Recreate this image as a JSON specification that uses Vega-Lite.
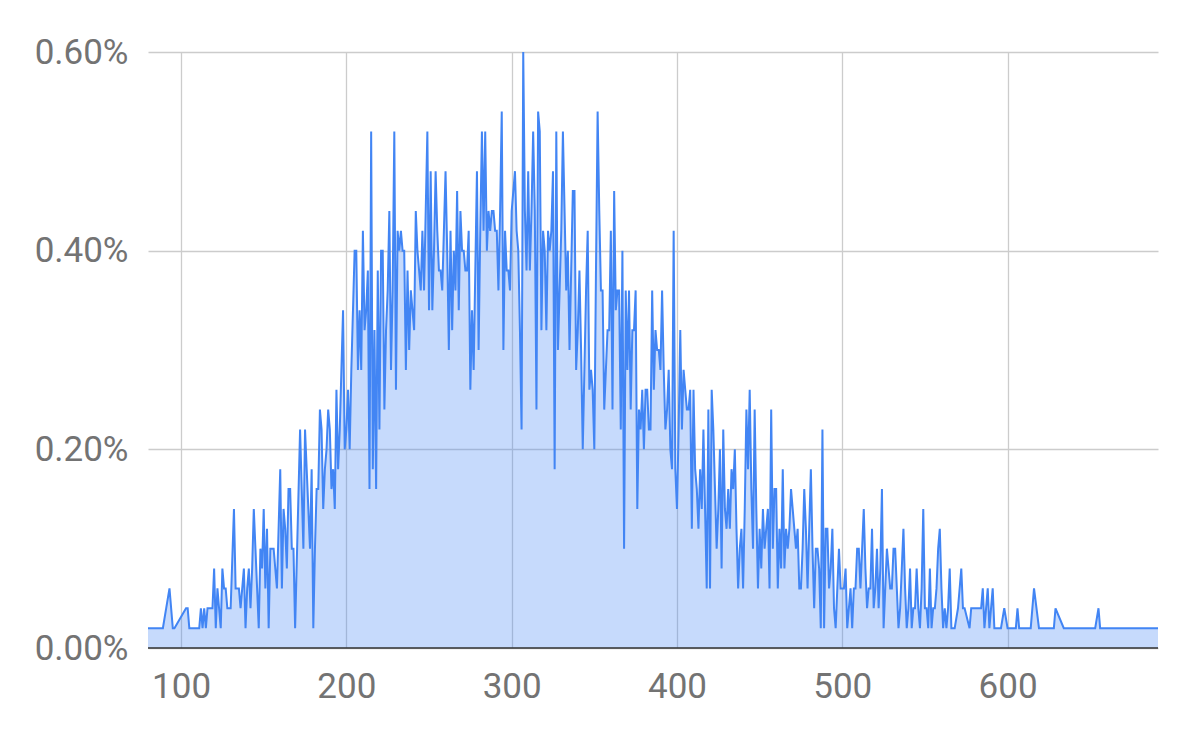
{
"$schema":"https://vega.github.io/schema/vega-lite/v6.json",
"width":1010,"height":596,"autosize":"none",
"padding":{"left":148,"top":52,"right":36,"bottom":88},
"background":"white",
"config":{"view":{"stroke":null},"font":"Roboto"},
"datasets":{"d":[
{"x":80,"p":0.0002},{"x":89,"p":0.0002},{"x":93,"p":0.0006},{"x":95,"p":0.0002},{"x":96,"p":0.0002},{"x":103,"p":0.0004},{"x":104,"p":0.0004},{"x":105,"p":0.0002},{"x":111,"p":0.0002},{"x":112,"p":0.0004},{"x":113,"p":0.0002},{"x":114,"p":0.0004},{"x":115,"p":0.0002},{"x":116,"p":0.0004},{"x":117,"p":0.0004},{"x":118,"p":0.0004},{"x":119,"p":0.0004},{"x":120,"p":0.0008},{"x":121,"p":0.0002},{"x":122,"p":0.0006},{"x":123,"p":0.0004},{"x":124,"p":0.0002},{"x":125,"p":0.0008},{"x":126,"p":0.0006},{"x":127,"p":0.0006},{"x":128,"p":0.0004},{"x":129,"p":0.0004},{"x":130,"p":0.0004},{"x":132,"p":0.0014},{"x":133,"p":0.0006},{"x":134,"p":0.0006},{"x":135,"p":0.0006},{"x":136,"p":0.0004},{"x":137,"p":0.0006},{"x":138,"p":0.0008},{"x":139,"p":0.0002},{"x":140,"p":0.0006},{"x":141,"p":0.0008},{"x":142,"p":0.0004},{"x":143,"p":0.0008},{"x":144,"p":0.0014},{"x":145,"p":0.001},{"x":146,"p":0.0006},{"x":147,"p":0.0002},{"x":148,"p":0.001},{"x":149,"p":0.0008},{"x":150,"p":0.0014},{"x":151,"p":0.0006},{"x":152,"p":0.0012},{"x":153,"p":0.0002},{"x":154,"p":0.001},{"x":155,"p":0.001},{"x":156,"p":0.001},{"x":157,"p":0.0008},{"x":158,"p":0.0006},{"x":159,"p":0.0012},{"x":160,"p":0.0018},{"x":161,"p":0.0006},{"x":162,"p":0.0014},{"x":163,"p":0.0012},{"x":164,"p":0.0008},{"x":165,"p":0.0016},{"x":166,"p":0.0016},{"x":167,"p":0.001},{"x":168,"p":0.001},{"x":169,"p":0.0002},{"x":172,"p":0.0022},{"x":173,"p":0.0016},{"x":174,"p":0.001},{"x":175,"p":0.0022},{"x":176,"p":0.0018},{"x":177,"p":0.0014},{"x":178,"p":0.001},{"x":179,"p":0.0018},{"x":180,"p":0.0002},{"x":181,"p":0.001},{"x":182,"p":0.0016},{"x":183,"p":0.0016},{"x":184,"p":0.0024},{"x":185,"p":0.0022},{"x":186,"p":0.0014},{"x":187,"p":0.0018},{"x":188,"p":0.002},{"x":189,"p":0.0024},{"x":190,"p":0.0022},{"x":191,"p":0.0016},{"x":192,"p":0.0018},{"x":193,"p":0.0014},{"x":194,"p":0.0026},{"x":195,"p":0.0018},{"x":196,"p":0.0022},{"x":197,"p":0.0028},{"x":198,"p":0.0034},{"x":199,"p":0.002},{"x":200,"p":0.0022},{"x":201,"p":0.0026},{"x":202,"p":0.002},{"x":203,"p":0.0028},{"x":204,"p":0.0034},{"x":205,"p":0.004},{"x":206,"p":0.004},{"x":207,"p":0.0028},{"x":208,"p":0.0034},{"x":209,"p":0.0028},{"x":210,"p":0.0042},{"x":211,"p":0.0032},{"x":212,"p":0.0034},{"x":213,"p":0.0038},{"x":214,"p":0.0016},{"x":215,"p":0.0052},{"x":216,"p":0.0018},{"x":217,"p":0.0032},{"x":218,"p":0.0016},{"x":219,"p":0.0038},{"x":220,"p":0.0022},{"x":221,"p":0.004},{"x":222,"p":0.004},{"x":223,"p":0.0024},{"x":224,"p":0.0032},{"x":225,"p":0.0036},{"x":226,"p":0.0044},{"x":227,"p":0.0028},{"x":228,"p":0.0036},{"x":229,"p":0.0052},{"x":230,"p":0.0026},{"x":231,"p":0.0042},{"x":232,"p":0.004},{"x":233,"p":0.0042},{"x":234,"p":0.004},{"x":235,"p":0.004},{"x":236,"p":0.0028},{"x":237,"p":0.0038},{"x":238,"p":0.003},{"x":239,"p":0.0036},{"x":240,"p":0.0034},{"x":241,"p":0.0032},{"x":242,"p":0.0044},{"x":243,"p":0.004},{"x":244,"p":0.0038},{"x":245,"p":0.0036},{"x":246,"p":0.0042},{"x":247,"p":0.0036},{"x":248,"p":0.0044},{"x":249,"p":0.0052},{"x":250,"p":0.0034},{"x":251,"p":0.0048},{"x":252,"p":0.0034},{"x":253,"p":0.004},{"x":254,"p":0.0048},{"x":255,"p":0.0042},{"x":256,"p":0.0038},{"x":257,"p":0.0038},{"x":258,"p":0.0036},{"x":259,"p":0.0042},{"x":260,"p":0.0048},{"x":261,"p":0.004},{"x":262,"p":0.003},{"x":263,"p":0.0042},{"x":264,"p":0.0032},{"x":265,"p":0.004},{"x":266,"p":0.0036},{"x":267,"p":0.0046},{"x":268,"p":0.0034},{"x":269,"p":0.0044},{"x":270,"p":0.004},{"x":271,"p":0.004},{"x":272,"p":0.0038},{"x":273,"p":0.0038},{"x":274,"p":0.0042},{"x":275,"p":0.0026},{"x":276,"p":0.0034},{"x":277,"p":0.0028},{"x":278,"p":0.0038},{"x":279,"p":0.0048},{"x":280,"p":0.003},{"x":281,"p":0.0042},{"x":282,"p":0.0052},{"x":283,"p":0.0042},{"x":284,"p":0.0052},{"x":285,"p":0.004},{"x":286,"p":0.0044},{"x":287,"p":0.0042},{"x":288,"p":0.0044},{"x":289,"p":0.0044},{"x":290,"p":0.0042},{"x":291,"p":0.0042},{"x":292,"p":0.0036},{"x":293,"p":0.0044},{"x":294,"p":0.0054},{"x":295,"p":0.003},{"x":296,"p":0.0042},{"x":297,"p":0.0038},{"x":298,"p":0.0038},{"x":299,"p":0.0036},{"x":300,"p":0.0044},{"x":301,"p":0.0046},{"x":302,"p":0.0048},{"x":303,"p":0.0042},{"x":304,"p":0.004},{"x":305,"p":0.0032},{"x":306,"p":0.0022},{"x":307,"p":0.006},{"x":308,"p":0.0044},{"x":309,"p":0.0038},{"x":310,"p":0.0048},{"x":311,"p":0.0038},{"x":312,"p":0.0044},{"x":313,"p":0.0052},{"x":314,"p":0.0044},{"x":315,"p":0.0024},{"x":316,"p":0.0054},{"x":317,"p":0.0052},{"x":318,"p":0.0032},{"x":319,"p":0.0042},{"x":320,"p":0.004},{"x":321,"p":0.0032},{"x":322,"p":0.0042},{"x":323,"p":0.004},{"x":324,"p":0.0042},{"x":325,"p":0.0048},{"x":326,"p":0.0018},{"x":327,"p":0.0052},{"x":328,"p":0.003},{"x":329,"p":0.0036},{"x":330,"p":0.0042},{"x":331,"p":0.0052},{"x":332,"p":0.0044},{"x":333,"p":0.0036},{"x":334,"p":0.004},{"x":335,"p":0.003},{"x":336,"p":0.0038},{"x":337,"p":0.0046},{"x":338,"p":0.0046},{"x":339,"p":0.0028},{"x":340,"p":0.0032},{"x":341,"p":0.0038},{"x":342,"p":0.003},{"x":343,"p":0.002},{"x":344,"p":0.0028},{"x":345,"p":0.0036},{"x":346,"p":0.0042},{"x":347,"p":0.0026},{"x":348,"p":0.0028},{"x":349,"p":0.0026},{"x":350,"p":0.002},{"x":351,"p":0.0038},{"x":352,"p":0.0054},{"x":353,"p":0.0044},{"x":354,"p":0.0036},{"x":355,"p":0.0036},{"x":356,"p":0.0024},{"x":357,"p":0.0028},{"x":358,"p":0.0032},{"x":359,"p":0.0032},{"x":360,"p":0.0042},{"x":361,"p":0.0024},{"x":362,"p":0.0046},{"x":363,"p":0.0034},{"x":364,"p":0.0036},{"x":365,"p":0.0036},{"x":366,"p":0.0022},{"x":367,"p":0.004},{"x":368,"p":0.001},{"x":369,"p":0.0036},{"x":370,"p":0.0028},{"x":371,"p":0.0036},{"x":372,"p":0.0024},{"x":373,"p":0.0032},{"x":374,"p":0.0032},{"x":375,"p":0.0036},{"x":376,"p":0.0014},{"x":377,"p":0.0024},{"x":378,"p":0.0022},{"x":379,"p":0.0026},{"x":380,"p":0.002},{"x":381,"p":0.0026},{"x":382,"p":0.0026},{"x":383,"p":0.0022},{"x":384,"p":0.0022},{"x":385,"p":0.0036},{"x":386,"p":0.0026},{"x":387,"p":0.0032},{"x":388,"p":0.003},{"x":389,"p":0.003},{"x":390,"p":0.0028},{"x":391,"p":0.0036},{"x":392,"p":0.0028},{"x":393,"p":0.0022},{"x":394,"p":0.0024},{"x":395,"p":0.0028},{"x":396,"p":0.002},{"x":397,"p":0.0018},{"x":398,"p":0.0042},{"x":399,"p":0.0018},{"x":400,"p":0.0014},{"x":401,"p":0.0022},{"x":402,"p":0.0032},{"x":403,"p":0.0022},{"x":404,"p":0.0028},{"x":405,"p":0.0026},{"x":406,"p":0.0024},{"x":407,"p":0.0024},{"x":408,"p":0.0026},{"x":409,"p":0.0012},{"x":410,"p":0.0026},{"x":411,"p":0.0018},{"x":412,"p":0.0016},{"x":413,"p":0.0012},{"x":414,"p":0.0018},{"x":415,"p":0.0014},{"x":416,"p":0.0022},{"x":417,"p":0.0014},{"x":418,"p":0.0006},{"x":419,"p":0.0024},{"x":420,"p":0.0006},{"x":421,"p":0.0026},{"x":422,"p":0.0022},{"x":423,"p":0.0016},{"x":424,"p":0.001},{"x":425,"p":0.0014},{"x":426,"p":0.002},{"x":427,"p":0.0008},{"x":428,"p":0.0022},{"x":429,"p":0.0014},{"x":430,"p":0.0012},{"x":431,"p":0.0016},{"x":432,"p":0.0012},{"x":433,"p":0.0018},{"x":434,"p":0.0016},{"x":435,"p":0.002},{"x":436,"p":0.0012},{"x":437,"p":0.0006},{"x":438,"p":0.001},{"x":439,"p":0.0012},{"x":440,"p":0.0006},{"x":441,"p":0.0014},{"x":442,"p":0.0024},{"x":443,"p":0.0018},{"x":444,"p":0.0026},{"x":445,"p":0.0016},{"x":446,"p":0.001},{"x":447,"p":0.0024},{"x":448,"p":0.0014},{"x":449,"p":0.0006},{"x":450,"p":0.0012},{"x":451,"p":0.0008},{"x":452,"p":0.0014},{"x":453,"p":0.001},{"x":454,"p":0.0012},{"x":455,"p":0.0014},{"x":456,"p":0.0006},{"x":457,"p":0.0024},{"x":458,"p":0.001},{"x":459,"p":0.0016},{"x":460,"p":0.0016},{"x":461,"p":0.0006},{"x":462,"p":0.0012},{"x":463,"p":0.0008},{"x":464,"p":0.0018},{"x":465,"p":0.0008},{"x":466,"p":0.0012},{"x":467,"p":0.001},{"x":468,"p":0.0012},{"x":469,"p":0.0016},{"x":470,"p":0.0014},{"x":471,"p":0.0012},{"x":472,"p":0.001},{"x":473,"p":0.0012},{"x":474,"p":0.0006},{"x":475,"p":0.0006},{"x":476,"p":0.001},{"x":477,"p":0.0016},{"x":478,"p":0.0012},{"x":479,"p":0.0006},{"x":480,"p":0.0012},{"x":481,"p":0.0018},{"x":482,"p":0.001},{"x":483,"p":0.0004},{"x":484,"p":0.001},{"x":485,"p":0.001},{"x":486,"p":0.0008},{"x":487,"p":0.0002},{"x":488,"p":0.0022},{"x":489,"p":0.0002},{"x":490,"p":0.0012},{"x":491,"p":0.0012},{"x":492,"p":0.0006},{"x":493,"p":0.0008},{"x":494,"p":0.0012},{"x":495,"p":0.0004},{"x":496,"p":0.0002},{"x":497,"p":0.0006},{"x":498,"p":0.001},{"x":499,"p":0.0006},{"x":500,"p":0.0006},{"x":501,"p":0.0006},{"x":502,"p":0.0008},{"x":503,"p":0.0002},{"x":504,"p":0.0004},{"x":505,"p":0.0006},{"x":506,"p":0.0002},{"x":507,"p":0.0006},{"x":508,"p":0.0006},{"x":509,"p":0.001},{"x":510,"p":0.001},{"x":511,"p":0.0006},{"x":512,"p":0.001},{"x":513,"p":0.0014},{"x":514,"p":0.0008},{"x":515,"p":0.0004},{"x":516,"p":0.0006},{"x":517,"p":0.0006},{"x":518,"p":0.0012},{"x":519,"p":0.0004},{"x":520,"p":0.0006},{"x":521,"p":0.001},{"x":522,"p":0.0004},{"x":523,"p":0.0008},{"x":524,"p":0.0016},{"x":525,"p":0.0002},{"x":526,"p":0.0006},{"x":527,"p":0.001},{"x":528,"p":0.0008},{"x":529,"p":0.0006},{"x":530,"p":0.0006},{"x":531,"p":0.001},{"x":532,"p":0.001},{"x":533,"p":0.0006},{"x":534,"p":0.0002},{"x":535,"p":0.0004},{"x":536,"p":0.0008},{"x":537,"p":0.0012},{"x":538,"p":0.0006},{"x":539,"p":0.0002},{"x":540,"p":0.0004},{"x":541,"p":0.0008},{"x":542,"p":0.0002},{"x":543,"p":0.0004},{"x":544,"p":0.0004},{"x":545,"p":0.0008},{"x":546,"p":0.0004},{"x":547,"p":0.0002},{"x":548,"p":0.0006},{"x":549,"p":0.0014},{"x":550,"p":0.0004},{"x":551,"p":0.0004},{"x":552,"p":0.0002},{"x":553,"p":0.0008},{"x":554,"p":0.0002},{"x":555,"p":0.0004},{"x":556,"p":0.0004},{"x":557,"p":0.0006},{"x":558,"p":0.001},{"x":559,"p":0.0012},{"x":560,"p":0.0006},{"x":561,"p":0.0002},{"x":562,"p":0.0004},{"x":563,"p":0.0002},{"x":564,"p":0.0004},{"x":565,"p":0.0008},{"x":566,"p":0.0002},{"x":567,"p":0.0002},{"x":568,"p":0.0002},{"x":570,"p":0.0004},{"x":572,"p":0.0008},{"x":573,"p":0.0004},{"x":574,"p":0.0004},{"x":577,"p":0.0002},{"x":578,"p":0.0004},{"x":584,"p":0.0004},{"x":585,"p":0.0006},{"x":586,"p":0.0002},{"x":588,"p":0.0006},{"x":589,"p":0.0002},{"x":591,"p":0.0006},{"x":592,"p":0.0002},{"x":596,"p":0.0002},{"x":598,"p":0.0004},{"x":600,"p":0.0002},{"x":605,"p":0.0002},{"x":606,"p":0.0004},{"x":607,"p":0.0002},{"x":614,"p":0.0002},{"x":616,"p":0.0006},{"x":619,"p":0.0002},{"x":628,"p":0.0002},{"x":629,"p":0.0004},{"x":634,"p":0.0002},{"x":653,"p":0.0002},{"x":655,"p":0.0004},{"x":656,"p":0.0002},{"x":691,"p":0.0002}
],"base":[{"v":0}]},
"layer":[
{"data":{"name":"d"},"mark":{"type":"area","color":"#4285f4","opacity":0.3},
 "encoding":{
  "x":{"field":"x","type":"quantitative","scale":{"domain":[80,691],"nice":false,"zero":false},
   "axis":{"values":[100,200,300,400,500,600],"title":null,"grid":true,"gridColor":"#cccccc","gridWidth":1.3,"ticks":false,"domain":false,"labelFontSize":35,"labelColor":"#737373","labelPadding":21}},
  "y":{"field":"p","type":"quantitative","scale":{"domain":[0,0.006],"nice":false},
   "axis":{"values":[0,0.002,0.004,0.006],"format":".2%","title":null,"grid":true,"gridColor":"#cccccc","gridWidth":1.3,"ticks":false,"domain":false,"labelFontSize":35,"labelColor":"#737373","labelPadding":20}}}},
{"data":{"name":"d"},"mark":{"type":"line","color":"#4285f4","strokeWidth":2},
 "encoding":{"x":{"field":"x","type":"quantitative"},"y":{"field":"p","type":"quantitative"}}},
{"data":{"name":"base"},"mark":{"type":"rule","color":"#333333","strokeWidth":1.5},
 "encoding":{"y":{"field":"v","type":"quantitative"}}}
]
}
